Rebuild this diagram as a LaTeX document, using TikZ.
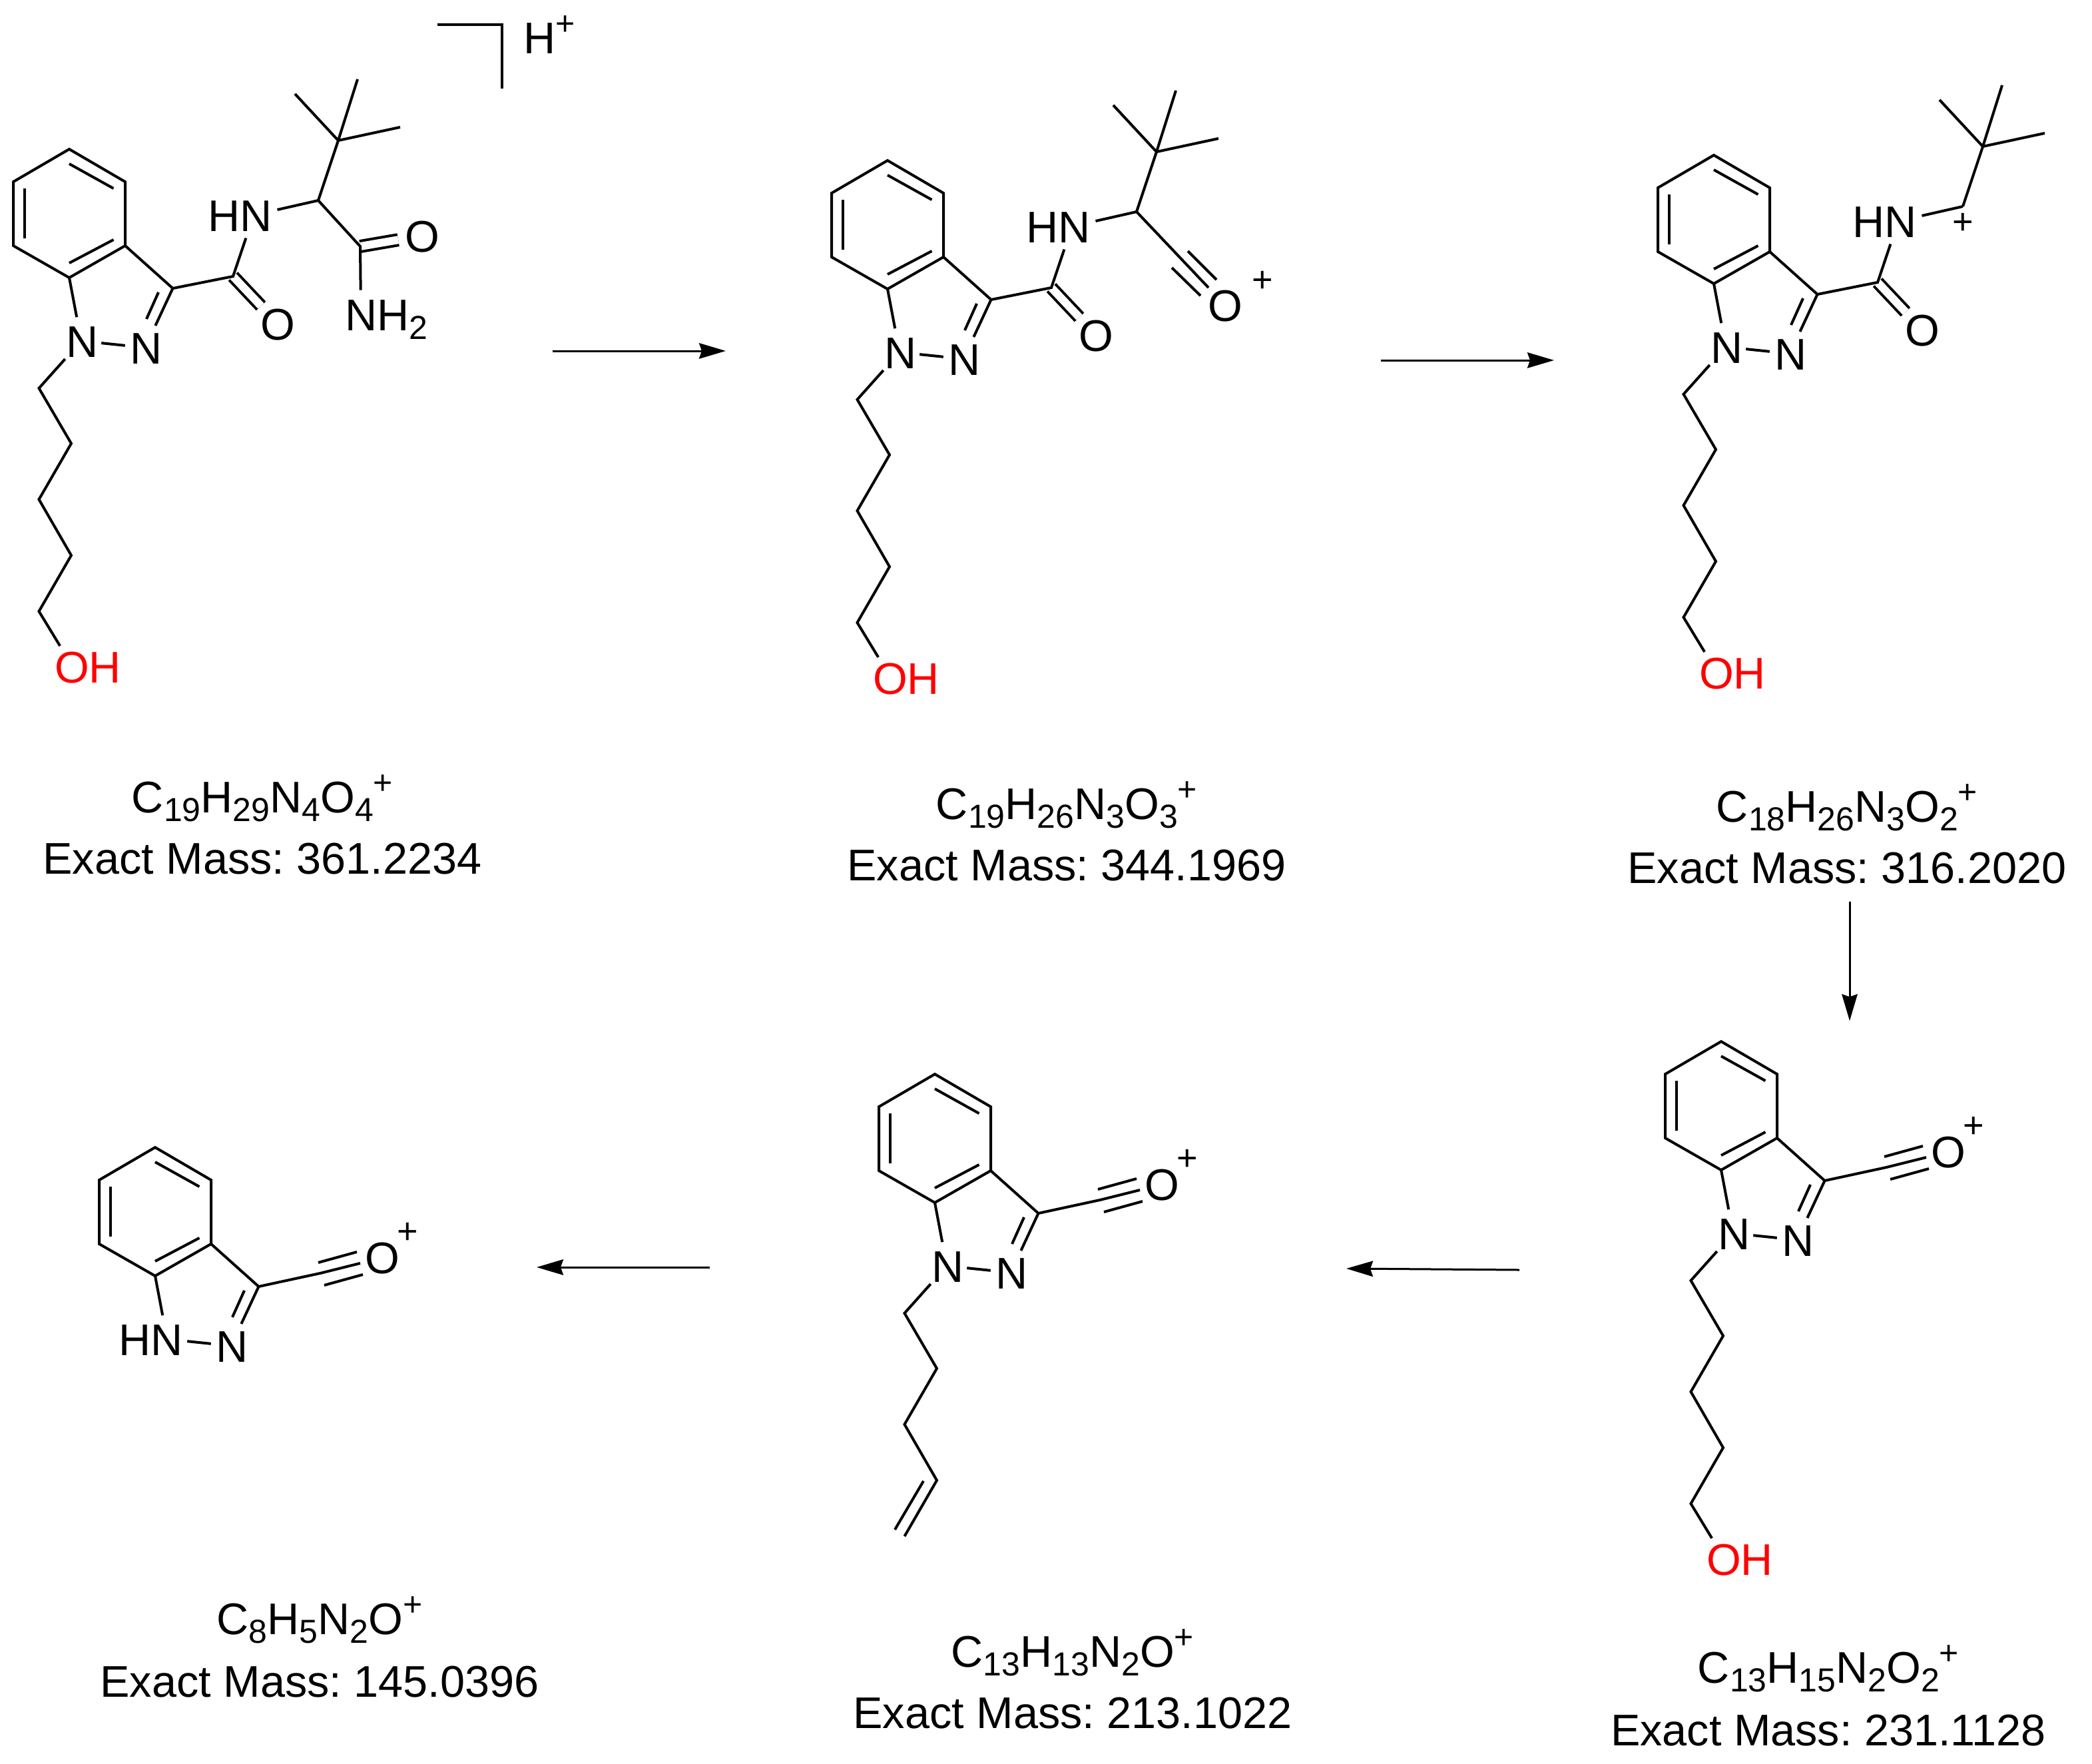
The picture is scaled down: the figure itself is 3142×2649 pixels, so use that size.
\documentclass[tikz,border=0pt]{standalone}
\usepackage{fontspec}
\setmainfont{Liberation Sans}
\usetikzlibrary{arrows.meta,calc}
\newcommand\sbs[1]{\raisebox{-6.5pt}{\fontsize{25}{28}\selectfont #1}}
\newcommand\sps[1]{\raisebox{14pt}{\fontsize{25}{28}\selectfont #1}}
\tikzset{
  bond/.style={line width=2pt,line join=miter,line cap=butt},
  dbl/.style={bond,double,double distance=6pt},
  site/.style={circle,inner sep=0pt,minimum size=36pt},
  lab/.style={font=\fontsize{33.3}{40}\selectfont\frenchspacing,inner sep=0pt,anchor=base,yshift=-12pt},
  plusn/.style={font=\fontsize{27}{30}\selectfont,inner sep=0pt,anchor=center},
  rxn/.style={line width=1.5pt,-{Stealth[length=20pt,width=11.7pt,inset=2pt]}},
}
% indazole core, common to all six structures
\newcommand\ringpart[1]{
  \coordinate (#1a) at (104,224);
  \coordinate (#1b) at (188,273);
  \coordinate (#1c) at (188,369);
  \coordinate (#1d) at (104,417);
  \coordinate (#1e) at (20,369);
  \coordinate (#1f) at (20,273);
  \coordinate (#1c3) at (259.5,433);
  \coordinate (#1i1) at (37,283); \coordinate (#1i2) at (37,358);
  \coordinate (#1i3) at (104,246); \coordinate (#1i4) at (170.5,283);
  \coordinate (#1i5) at (104,395); \coordinate (#1i6) at (170.5,360);
  \coordinate (#1i7) at (238,439); \coordinate (#1i8) at (220,479);
  \node[site] (#1n1) at (122,512) {};
  \node[site] (#1n2) at (218,522) {};
  \node[lab,xshift=1pt] (#1n2t) at (#1n2) {N};
  \draw[bond] (#1a)--(#1b)--(#1c)--(#1d)--(#1e)--(#1f)--cycle;
  \draw[bond] (#1c)--(#1c3)--(#1n2);
  \draw[bond] (#1d)--(#1n1);
  \draw[bond,shorten <=-3pt,shorten >=-3pt] (#1n1)--(#1n2);
  \draw[bond] (#1i1)--(#1i2);
  \draw[bond] (#1i3)--(#1i4);
  \draw[bond] (#1i5)--(#1i6);
  \draw[bond] (#1i7)--(#1i8);
}
\newcommand\core[1]{\ringpart{#1}\node[lab,xshift=1pt] (#1n1t) at (#1n1) {N};}
% pentyl-type chain
\newcommand\chainpart[1]{
  \coordinate (#1g1) at (58.5,583);
  \coordinate (#1g2) at (107,666);
  \coordinate (#1g3) at (58.5,750);
  \coordinate (#1g4) at (107,834);
  \coordinate (#1g5) at (58.5,918);
}
\newcommand\hydroxy[1]{
  \chainpart{#1}
  \node[site] (#1o) at (109,1001) {};
  \node[lab,text=red] (#1ot) at (132,1001) {OH};
  \draw[bond] (#1n1)--(#1g1)--(#1g2)--(#1g3)--(#1g4)--(#1g5)--(#1o);
}
% amide arm with its NH
\newcommand\amide[1]{
  \coordinate (#1k) at (350,415);
  \node[site] (#1ko) at (417,486) {};
  \node[site] (#1hn) at (381,323) {};
  \node[lab] (#1kot) at (#1ko) {O};
  \node[lab,anchor=base east] (#1hnt) at ([xshift=14pt]#1hn) {HN};
  \draw[dbl] (#1k)--(#1ko);
  \draw[bond] (#1c3)--(#1k)--(#1hn);
}
% tert-butyl
\newcommand\tbu[2]{
  \coordinate (#1q) at (508,211);
  \coordinate (#1m1) at (443,141);
  \coordinate (#1m2) at (537,119);
  \coordinate (#1m3) at (601,191);
  \draw[bond] (#2)--(#1q);
  \draw[bond] (#1m1)--(#1q);
  \draw[bond] (#1m2)--(#1q);
  \draw[bond] (#1m3)--(#1q);
}
% acylium on the ring
\newcommand\acylium[1]{
  \coordinate (#1x) at (352,413);
  \coordinate (#1y) at (412,398);
  \coordinate (#1t1) at (349,397); \coordinate (#1t2) at (407,381);
  \coordinate (#1b1) at (358,431); \coordinate (#1b2) at (416,415);
  \node[lab] (#1ao) at (445,389) {O};
  \node[plusn] (#1ap) at (483,353) {+};
  \draw[bond] (#1c3)--(#1x)--(#1y);
  \draw[bond] (#1t1)--(#1t2);
  \draw[bond] (#1b1)--(#1b2);
}
\begin{document}
\begin{tikzpicture}[x=0.5pt,y=-0.5pt]
\path[use as bounding box,fill=white] (0,0) rectangle (3142,2649);

% ---------- structure 1
\begin{scope}
  \core{A}
  \hydroxy{A}
  \amide{A}
  \coordinate (Ach) at (478,301);
  \coordinate (Acc) at (541,370);
  \node[site] (Aco) at (634,354) {};
  \node[site] (Anh) at (542,472) {};
  \node[lab] (Acot) at (Aco) {O};
  \node[lab,anchor=base west] (Anht) at ([xshift=-12pt]Anh) {NH\sbs{2}};
  \draw[dbl] (Acc)--(Aco);
  \draw[bond] (Ahn)--(Ach)--(Acc)--(Anh);
  \tbu{A}{Ach}
  \coordinate (Br1) at (657,37);
  \coordinate (Br2) at (754,37);
  \coordinate (Br3) at (754,133);
  \draw[bond] (Br1)--(Br2)--(Br3);
  \node[lab,anchor=base west] (Hp) at (786,57) {H\sps{+}};
  \node[lab] (Af) at (394,1196) {C\sbs{19}H\sbs{29}N\sbs{4}O\sbs{4}\sps{+}};
  \node[lab] (Am) at (394,1288) {Exact Mass: 361.2234};
\end{scope}

% ---------- structure 2
\begin{scope}[shift={(1229,17)}]
  \core{B}
  \hydroxy{B}
  \amide{B}
  \coordinate (Bch) at (478,301);
  \coordinate (Bz) at (611,441);
  \coordinate (Be) at (586,415);
  \coordinate (Bt1) at (555,360); \coordinate (Bt2) at (598,403);
  \coordinate (Bb1) at (531,385); \coordinate (Bb2) at (574,427);
  \node[lab] (Bao) at (Bz) {O};
  \node[plusn] (Bap) at (667,406) {+};
  \draw[bond] (Bhn)--(Bch)--(Be);
  \draw[bond] (Bt1)--(Bt2);
  \draw[bond] (Bb1)--(Bb2);
  \tbu{B}{Bch}
\end{scope}
\node[lab] (Bf) at (1602,1206) {C\sbs{19}H\sbs{26}N\sbs{3}O\sbs{3}\sps{+}};
\node[lab] (Bm) at (1602,1298) {Exact Mass: 344.1969};

% ---------- structure 3
\begin{scope}[shift={(2470,9)}]
  \core{C}
  \hydroxy{C}
  \amide{C}
  \coordinate (Cch) at (478,301);
  \node[plusn] (Cp) at (478,327) {+};
  \draw[bond] (Chn)--(Cch);
  \tbu{C}{Cch}
\end{scope}
\node[lab] (Cf) at (2774,1210) {C\sbs{18}H\sbs{26}N\sbs{3}O\sbs{2}\sps{+}};
\node[lab] (Cm) at (2774,1302) {Exact Mass: 316.2020};

% ---------- structure 4
\begin{scope}[shift={(2481,1340)}]
  \core{D}
  \hydroxy{D}
  \acylium{D}
\end{scope}
\node[lab] (Df) at (2746,2503) {C\sbs{13}H\sbs{15}N\sbs{2}O\sbs{2}\sps{+}};
\node[lab] (Dm) at (2746,2597) {Exact Mass: 231.1128};

% ---------- structure 5
\begin{scope}[shift={(1300,1389)}]
  \core{E}
  \chainpart{E}
  \coordinate (Ed1) at (44,908);
  \coordinate (Ed2) at (87,835);
  \draw[bond] (En1)--(Eg1)--(Eg2)--(Eg3)--(Eg4)--(Eg5);
  \draw[bond] (Ed1)--(Ed2);
  \acylium{E}
\end{scope}
\node[lab] (Ef) at (1611,2479) {C\sbs{13}H\sbs{13}N\sbs{2}O\sps{+}};
\node[lab] (Em) at (1611,2571) {Exact Mass: 213.1022};

% ---------- structure 6
\begin{scope}[shift={(129,1499)}]
  \ringpart{F}
  \node[lab,anchor=base east] (Fn1t) at ([xshift=12pt]Fn1) {HN};
  \acylium{F}
\end{scope}
\node[lab] (Ff) at (480,2430) {C\sbs{8}H\sbs{5}N\sbs{2}O\sps{+}};
\node[lab] (Fm) at (480,2524) {Exact Mass: 145.0396};

% ---------- reaction arrows
\coordinate (r1a) at (830,527);  \coordinate (r1b) at (1090,527);
\coordinate (r2a) at (2074,541); \coordinate (r2b) at (2334,541);
\coordinate (r3a) at (2778,1354);\coordinate (r3b) at (2778,1533);
\coordinate (r4a) at (2282,1907);\coordinate (r4b) at (2022,1905);
\coordinate (r5a) at (1066,1903);\coordinate (r5b) at (806,1903);
\draw[rxn] (r1a)--(r1b);
\draw[rxn] (r2a)--(r2b);
\draw[rxn] (r3a)--(r3b);
\draw[rxn] (r4a)--(r4b);
\draw[rxn] (r5a)--(r5b);
\end{tikzpicture}
\end{document}
